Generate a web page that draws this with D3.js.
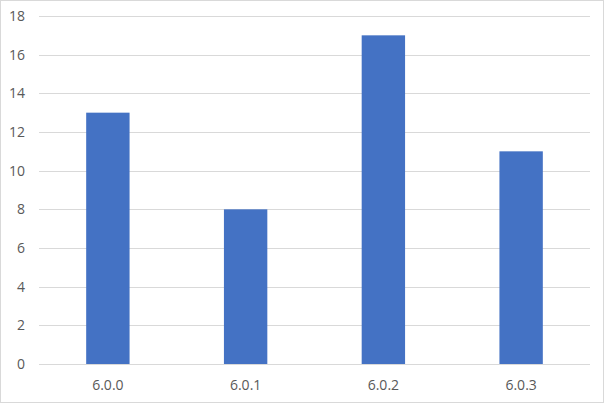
<!DOCTYPE html>
<html><head><meta charset="utf-8">
<script src="https://cdn.jsdelivr.net/npm/d3@7"></script>
<style>body{margin:0;background:#fff}svg{display:block}</style>
</head><body>
<svg id="c" width="606" height="404"></svg>
<script>
const categories = ["6.0.0", "6.0.1", "6.0.2", "6.0.3"];
const values = [13, 8, 17, 11];
const yTicks = [0, 2, 4, 6, 8, 10, 12, 14, 16, 18];

const svg = d3.select("#c");
const m = {left: 39, right: 590, top: 16, bottom: 364};
svg.append("rect").attr("x", 0.5).attr("y", 0.5).attr("width", 603).attr("height", 402)
  .attr("fill", "#fff").attr("stroke", "#d9d9d9");

const x = d3.scaleBand().domain(categories).range([m.left, m.right])
  .paddingInner(0.685).paddingOuter(0.3425);
const y = d3.scaleLinear().domain([0, 18]).range([m.bottom, m.top]);

const font = "'Open Sans', 'Liberation Sans', Arial, sans-serif";

const grid = svg.append("g");
grid.selectAll("line").data(yTicks).join("line")
  .attr("x1", m.left).attr("x2", m.right)
  .attr("y1", d => Math.round(y(d)) + 0.5).attr("y2", d => Math.round(y(d)) + 0.5)
  .attr("stroke", "#d9d9d9").attr("stroke-width", 1);

const yAxis = svg.append("g").attr("transform", `translate(${m.left},0)`)
  .call(d3.axisLeft(y).tickValues(yTicks).tickSize(0).tickPadding(14));
yAxis.select(".domain").remove();
yAxis.selectAll("text").attr("fill", "#595959").style("font-family", font).style("font-size", "14px");

svg.append("g").selectAll("rect").data(values).join("rect")
  .attr("x", (d, i) => x(categories[i]))
  .attr("width", x.bandwidth())
  .attr("y", d => y(d))
  .attr("height", d => y(0) - y(d))
  .attr("fill", "#4472c4");

const xAxis = svg.append("g").attr("transform", `translate(0,${m.bottom})`)
  .call(d3.axisBottom(x).tickSize(0).tickPadding(16));
xAxis.select(".domain").remove();
xAxis.selectAll("text").attr("fill", "#595959").style("font-family", font).style("font-size", "14px");
</script>
</body></html>
